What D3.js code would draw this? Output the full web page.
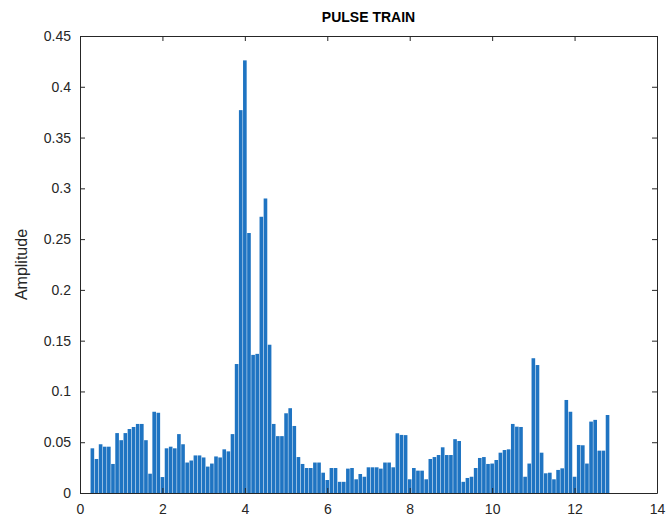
<!DOCTYPE html>
<html>
<head>
<meta charset="utf-8">
<script src="https://cdn.jsdelivr.net/npm/d3@7"></script>
<style>
    body { margin: 0; background: #fff; }
    .axis text { font-family: "Liberation Sans", Arial, sans-serif; font-size: 14px; fill: #262626; }
    .axis path, .axis line { stroke: #262626; }
</style>
</head>
<body>
<div id="chart"></div>
<script>
// pulse train samples, t = 0.3 : 0.1 : 12.8
const startTime = 0.3;
const timeStep = 0.1;
const amplitude = [
    0.044, 0.0335, 0.048, 0.0456, 0.0456, 0.0286, 0.059, 0.052, 0.059, 0.063,
    0.065, 0.068, 0.068, 0.052, 0.019, 0.080, 0.079, 0.0157, 0.044, 0.0456,
    0.044, 0.058, 0.048, 0.030, 0.032, 0.037, 0.037, 0.035, 0.026, 0.029,
    0.036, 0.035, 0.043, 0.041, 0.058, 0.127, 0.377, 0.426, 0.256, 0.136,
    0.137, 0.272, 0.29, 0.146, 0.068, 0.056, 0.056, 0.0785, 0.0835, 0.066,
    0.0354, 0.0286, 0.0246, 0.0246, 0.030, 0.030, 0.020, 0.0128, 0.0246, 0.0246,
    0.011, 0.011, 0.024, 0.0246, 0.0135, 0.0187, 0.016, 0.0253, 0.0253, 0.0253,
    0.024, 0.030, 0.030, 0.0253, 0.0588, 0.0572, 0.057, 0.0135, 0.0246, 0.022,
    0.022, 0.0135, 0.0335, 0.0354, 0.0374, 0.045, 0.0374, 0.0374, 0.053, 0.0512,
    0.011, 0.0148, 0.016, 0.0246, 0.0345, 0.0354, 0.0286, 0.029, 0.0325, 0.0397,
    0.0423, 0.043, 0.068, 0.0653, 0.065, 0.016, 0.029, 0.1327, 0.126, 0.0397,
    0.0194, 0.020, 0.0135, 0.0227, 0.0243, 0.0916, 0.080, 0.016, 0.0473, 0.047,
    0.029, 0.0703, 0.072, 0.0417, 0.0417, 0.0768
];
const xTicks = [0, 2, 4, 6, 8, 10, 12, 14];
const yTicks = [0, 0.05, 0.1, 0.15, 0.2, 0.25, 0.3, 0.35, 0.4, 0.45];
const chartTitle = 'PULSE TRAIN';
const yTitle = 'Amplitude';

class PulseChart {
    constructor(_config, _data) {
        this.config = {
            parentElement: _config.parentElement,
            containerWidth: _config.containerWidth || 669,
            containerHeight: _config.containerHeight || 523,
            margin: _config.margin || {top: 36, right: 12, bottom: 30, left: 80}
        };
        this.data = _data;
        this.initVis();
        this.renderVis();
    }

    initVis() {
        let vis = this;
        vis.width = vis.config.containerWidth - vis.config.margin.left - vis.config.margin.right;
        vis.height = vis.config.containerHeight - vis.config.margin.top - vis.config.margin.bottom;

        vis.svg = d3.select(vis.config.parentElement)
            .append('svg')
            .attr('width', vis.config.containerWidth)
            .attr('height', vis.config.containerHeight);

        vis.chart = vis.svg.append('g')
            .attr('transform', `translate(${vis.config.margin.left},${vis.config.margin.top})`);

        vis.xScale = d3.scaleLinear().domain([0, 14]).range([0, vis.width]);
        vis.yScale = d3.scaleLinear().domain([0, 0.45]).range([vis.height, 0]);
    }

    renderVis() {
        let vis = this;
        const barW = vis.xScale(timeStep * 0.88) - vis.xScale(0);

        vis.chart.selectAll('.bar')
            .data(vis.data)
            .enter().append('rect')
            .attr('class', 'bar')
            .attr('x', d => vis.xScale(d.t) - barW / 2)
            .attr('y', d => vis.yScale(d.v))
            .attr('width', barW)
            .attr('height', d => vis.height - vis.yScale(d.v))
            .attr('fill', '#1f74c2');

        // axes, ticks pointing inward like matlab
        vis.chart.append('g')
            .attr('class', 'axis')
            .attr('transform', `translate(0,${vis.height})`)
            .call(d3.axisBottom(vis.xScale).tickValues(xTicks).tickSizeInner(-5).tickSizeOuter(0).tickPadding(11).tickFormat(d3.format('d')));

        vis.chart.append('g')
            .attr('class', 'axis')
            .call(d3.axisLeft(vis.yScale).tickValues(yTicks).tickSizeInner(-5).tickSizeOuter(0).tickPadding(9).tickFormat(d => d === 0 ? '0' : d3.format('.2~f')(d)));

        vis.chart.append('g')
            .attr('class', 'axis')
            .call(d3.axisTop(vis.xScale).tickValues(xTicks).tickSizeInner(-5).tickSizeOuter(0).tickFormat(''));

        vis.chart.append('g')
            .attr('class', 'axis')
            .attr('transform', `translate(${vis.width},0)`)
            .call(d3.axisRight(vis.yScale).tickValues(yTicks).tickSizeInner(-5).tickSizeOuter(0).tickFormat(''));

        vis.svg.append('text')
            .attr('x', vis.config.margin.left + vis.width / 2)
            .attr('y', 22)
            .attr('text-anchor', 'middle')
            .style('font-family', '"Liberation Sans", Arial, sans-serif')
            .style('font-size', '14px')
            .style('font-weight', 'bold')
            .style('fill', '#000')
            .text(chartTitle);

        vis.svg.append('text')
            .attr('transform', `translate(27,${vis.config.margin.top + vis.height / 2}) rotate(-90)`)
            .attr('text-anchor', 'middle')
            .style('font-family', '"Liberation Sans", Arial, sans-serif')
            .style('font-size', '16px')
            .style('fill', '#262626')
            .text(yTitle);
    }
}

const pulseData = amplitude.map((v, i) => ({t: startTime + i * timeStep, v: v}));
new PulseChart({parentElement: '#chart'}, pulseData);
</script>
</body>
</html>
